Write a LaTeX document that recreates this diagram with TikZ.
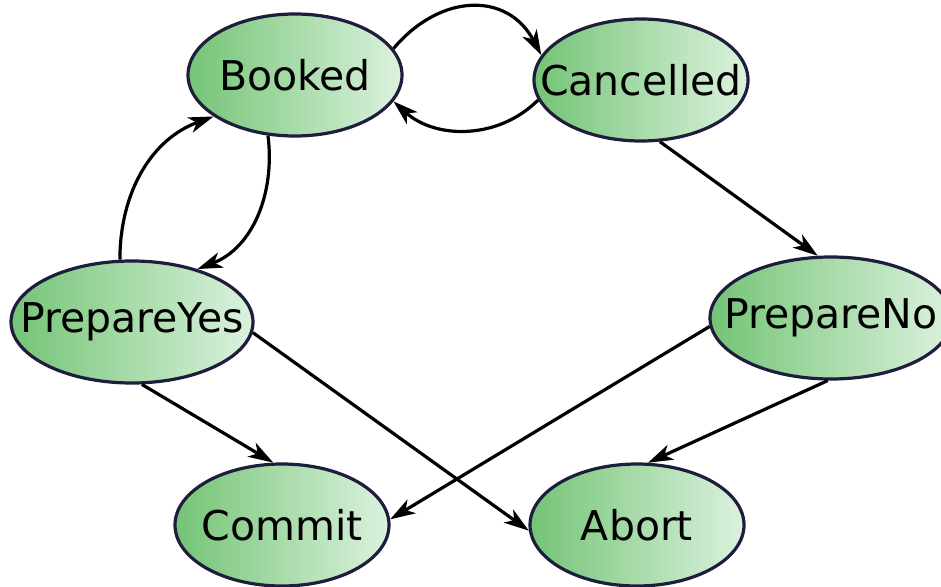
\documentclass[tikz,border=0pt]{standalone}
\usepackage{fontspec}
\setmainfont{DejaVu Sans}
\usetikzlibrary{shapes.geometric,arrows.meta}
\definecolor{stategreen}{HTML}{74C476}
\definecolor{statepale}{HTML}{DCF2DE}
\definecolor{stateedge}{HTML}{1E1E3C}
\newcommand\statename[1]{\makebox[0pt]{#1}}
\tikzset{
	state/.style={ellipse,draw=stateedge,line width=3.2pt,left color=stategreen,right color=statepale,minimum width=214pt,minimum height=122pt,inner sep=0pt,font=\fontsize{41}{49}\selectfont},
	flow/.style={line width=3.2pt,-{Stealth[length=25pt,width=16pt,inset=7pt]}}
}
\begin{document}
\begin{tikzpicture}[x=1pt,y=1pt]
	\useasboundingbox (0,0) rectangle (941,-586);
	\node[state] (booked) at (295,-75) {\statename{Booked}};
	\node[state] (cancelled) at (641,-80) {\statename{Cancelled}};
	\node[state,minimum width=242pt] (prepyes) at (132,-322) {\statename{PrepareYes}};
	\node[state,minimum width=242pt] (prepno) at (831,-318) {\statename{PrepareNo}};
	\node[state] (commit) at (282,-525) {\statename{Commit}};
	\node[state] (abort) at (637,-525) {\statename{Abort}};
	\path[flow]
		(booked.15) edge[out=50,in=118,looseness=1.25] (cancelled.166)
		(cancelled.191) edge[out=225,in=318] (booked.345)
		(booked.246) edge[out=-83,in=21] (prepyes.39)
		(prepyes.101) edge[out=90,in=200] (booked.207)
		(cancelled.287) edge (prepno.102)
		(prepyes.279) edge (commit.98)
		(prepyes.355) edge (abort.183)
		(prepno.184) edge (commit.3)
		(prepno.267) edge (abort.80);
\end{tikzpicture}
\end{document}
